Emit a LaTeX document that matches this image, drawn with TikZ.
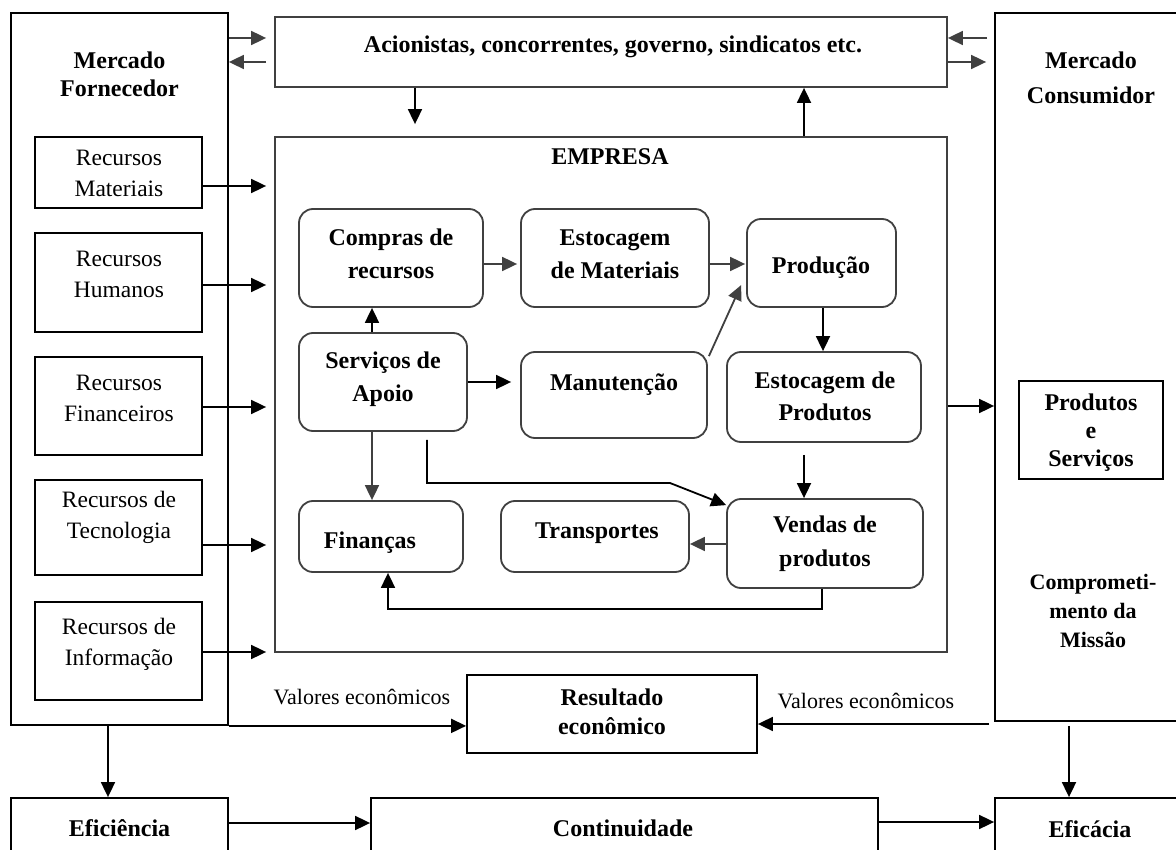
\documentclass[tikz,border=0pt]{standalone}
\usepackage{fontspec}
\setmainfont{Liberation Serif}
\usetikzlibrary{arrows.meta,fit}
\definecolor{dgray}{RGB}{64,64,64}
\begin{document}
\begin{tikzpicture}[x=1pt,y=-1pt,
  frame/.style={draw=black, line width=1.8pt, inner sep=0pt},
  gframe/.style={draw=dgray, line width=1.8pt, inner sep=0pt},
  rframe/.style={draw=dgray, line width=1.8pt, inner sep=0pt, rounded corners=14pt},
  bt/.style={font=\fontsize{24}{#1}\selectfont\bfseries, align=center, inner sep=0pt},
  bt/.default=33,
  rg/.style={font=\fontsize{23.5}{31}\selectfont, align=center, inner sep=0pt},
  vl/.style={font=\fontsize{22}{26}\selectfont, inner sep=0pt},
  arr/.style={draw=black, line width=1.8pt, -{Triangle[length=15pt,width=14pt]}},
  garr/.style={draw=dgray, line width=1.8pt, -{Triangle[length=15pt,width=14pt]}},
]
\useasboundingbox (0,0) rectangle (1176,850);
\clip (0,0) rectangle (1176,850);

% ---------- outer frames ----------
\node[frame,  fit={(11,13) (228,725)}]   (forn) {};
\node[gframe, fit={(275,17) (947,87)}]   (acion) {};
\node[frame,  fit={(995,13) (1180,721)}] (cons) {};
\node[gframe, fit={(275,137) (947,652)}] (emp) {};
\node[frame,  fit={(1019,381) (1163,479)}] (prodserv) {};
\node[frame,  fit={(467,675) (757,753)}] (resul) {};
\node[frame,  fit={(11,798) (228,870)}]  (efi) {};
\node[frame,  fit={(371,798) (878,870)}] (cont) {};
\node[frame,  fit={(995,798) (1180,870)}] (efa) {};

% ---------- resources ----------
\node[frame, fit={(35,137) (202,208)}] (rm) {};
\node[frame, fit={(35,233) (202,332)}] (rh) {};
\node[frame, fit={(35,357) (202,455)}] (rf) {};
\node[frame, fit={(35,480) (202,575)}] (rt) {};
\node[frame, fit={(35,602) (202,700)}] (ri) {};

% ---------- company departments ----------
\node[rframe, fit={(299,209) (483,307)}] (compras) {};
\node[rframe, fit={(521,209) (709,307)}] (estm) {};
\node[rframe, fit={(747,219) (896,307)}] (prod) {};
\node[rframe, fit={(299,333) (467,431)}] (serv) {};
\node[rframe, fit={(521,352) (707,438)}] (manut) {};
\node[rframe, fit={(727,352) (921,442)}] (estp) {};
\node[rframe, fit={(299,501) (463,572)}] (fin) {};
\node[rframe, fit={(501,501) (689,572)}] (transp) {};
\node[rframe, fit={(727,499) (923,588)}] (vend) {};

% ---------- texts ----------
\node[bt=28] (fornT) at (119.5,74) {Mercado\\Fornecedor};
\node[bt=35] (consT) at (1091,77.5) {Mercado\\Consumidor};
\node[bt] (acionT) at (613,47) {Acionistas, concorrentes, governo, sindicatos etc.};
\node[bt] (empT) at (610,157) {EMPRESA};
\node[rg] (rmT) at (119,173) {Recursos\\Materiais};
\node[rg] (rhT) at (119,274) {Recursos\\Humanos};
\node[rg] (rfT) at (119,398) {Recursos\\Financeiros};
\node[rg] (rtT) at (119,517) {Recursos de\\Tecnologia};
\node[rg] (riT) at (119,644) {Recursos de\\Informação};
\node[bt] (comprasT) at (391,254) {Compras de\\recursos};
\node[bt] (estmT) at (615,254) {Estocagem\\de Materiais};
\node[bt] (prodT) at (821,268) {Produção};
\node[bt] (servT) at (383,379) {Serviços de\\Apoio};
\node[bt] (manutT) at (614,385) {Manutenção};
\node[bt=32] (estpT) at (825,396) {Estocagem de\\Produtos};
\node[bt] (finT) at (370,543) {Finanças};
\node[bt] (transpT) at (597,533) {Transportes};
\node[bt=34] (vendT) at (825,544) {Vendas de\\produtos};
\node[bt=28] (prodservT) at (1091,433) {Produtos\\e\\Serviços};
\node[bt=29, font=\fontsize{22}{29}\selectfont\bfseries] (comprT) at (1093,611) {Comprometi-\\mento da\\Missão};
\node[bt=29] (resulT) at (612,712) {Resultado\\econômico};
\node[vl] (val1) at (362,697) {Valores econômicos};
\node[vl] (val2) at (866,701) {Valores econômicos};
\node[bt] (efiT) at (119.5,828) {Eficiência};
\node[bt] (contT) at (623,828) {Continuidade};
\node[bt] (efaT) at (1090,829) {Eficácia};

% ---------- exchanges with the environment ----------
\draw[garr, shorten >=8pt] (forn.east |- 0,38) -- (acion.west |- 0,38);
\draw[garr, shorten <=8pt] (acion.west |- 0,62) -- (forn.east |- 0,62);
\draw[garr, shorten <=7pt] (cons.west |- 0,38) -- (acion.east |- 0,38);
\draw[garr, shorten >=8pt] (acion.east |- 0,62) -- (cons.west |- 0,62);
\draw[arr, shorten >=12pt] (acion.south -| 415,0) -- (emp.north -| 415,0);
\draw[arr] (emp.north -| 804,0) -- (acion.south -| 804,0);

% ---------- resources into the company ----------
\draw[arr, shorten >=8pt] (rm.east |- 0,186) -- (emp.west |- 0,186);
\draw[arr, shorten >=8pt] (rh.east |- 0,285) -- (emp.west |- 0,285);
\draw[arr, shorten >=8pt] (rf.east |- 0,407) -- (emp.west |- 0,407);
\draw[arr, shorten >=8pt] (rt.east |- 0,545) -- (emp.west |- 0,545);
\draw[arr, shorten >=8pt] (ri.east |- 0,652) -- (emp.west |- 0,652);

% ---------- internal flows ----------
\draw[garr, shorten >=3pt] (compras.east |- 0,264) -- (estm.west |- 0,264);
\draw[garr, shorten >=1pt] (estm.east |- 0,264) -- (prod.west |- 0,264);
\draw[garr] ([shift={(1,5)}]manut.north east) -- ([shift={(-5,67)}]prod.north west);
\draw[arr] (serv.north -| 372,0) -- (compras.south -| 372,0);
\draw[arr, shorten >=9pt] (serv.east |- 0,382) -- (manut.west |- 0,382);
\draw[arr] (prod.south -| 823,0) -- (estp.north -| 823,0);
\draw[arr, shorten <=12pt] (estp.south -| 804,0) -- (vend.north -| 804,0);
\draw[garr] (serv.south -| 372,0) -- (fin.north -| 372,0);
\coordinate (bend) at (670,483);
\draw[arr, shorten <=8pt] (serv.south -| 427,0) |- (bend) -- ([shift={(0,7)}]vend.north west);
\draw[garr] (vend.west |- 0,544) -- (transp.east |- 0,544);
\draw[arr] (vend.south -| 822,0) |- (388,609) -- (fin.south -| 388,0);

% ---------- outputs ----------
\draw[arr] (emp.east |- 0,406) -- (cons.west |- 0,406);
\draw[arr] (forn.south east) -- (resul.west |- forn.south east);
\draw[arr, shorten <=5pt] (cons.west |- 0,724) -- (resul.east |- 0,724);
\draw[arr] (forn.south -| 108,0) -- (efi.north -| 108,0);
\draw[arr, shorten <=4pt] (cons.south -| 1069,0) -- (efa.north -| 1069,0);
\draw[arr] (efi.east |- 0,823) -- (cont.west |- 0,823);
\draw[arr] (cont.east |- 0,822) -- (efa.west |- 0,822);
\end{tikzpicture}
\end{document}
